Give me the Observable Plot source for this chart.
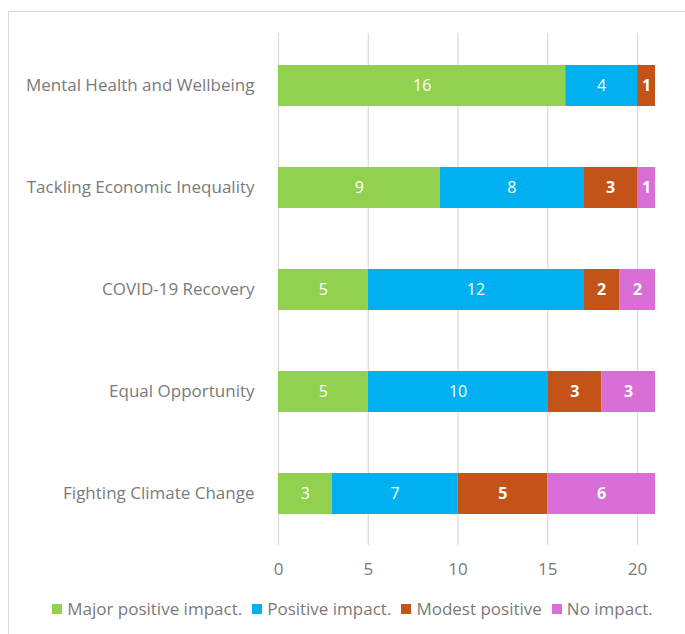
<!DOCTYPE html>
<html>
<head>
<meta charset="utf-8">
<script src="https://cdn.jsdelivr.net/npm/d3@7"></script>
<script src="https://cdn.jsdelivr.net/npm/@observablehq/plot@0.6"></script>
<style>
  body { margin: 0; background: #fff; font-family: "Open Sans", sans-serif; }
  #frame { position: absolute; left: 8px; top: 11px; width: 700px; height: 640px; border: 1px solid #d9d9d9; box-sizing: border-box; }
  #chart { position: absolute; left: 0; top: 0; }
  #legend { position: absolute; left: 10px; top: 597px; width: 685px; height: 24px; line-height: 24px; display: flex; justify-content: center; gap: 10px; font-size: 17px; color: #7a7a7a; }
  #legend span.item { display: inline-flex; align-items: center; gap: 5px; }
  #legend span.sw { width: 10px; height: 10px; display: inline-block; }
</style>
</head>
<body>
<div id="frame"></div>
<div id="chart"></div>
<div id="legend"></div>
<script>
const categories = ["Mental Health and Wellbeing", "Tackling Economic Inequality", "COVID-19 Recovery", "Equal Opportunity", "Fighting Climate Change"];
const series = ["Major positive impact.", "Positive impact.", "Modest positive", "No impact."];
const majorPositive = [16, 9, 5, 5, 3];
const positive = [4, 8, 12, 10, 7];
const modestPositive = [1, 3, 2, 3, 5];
const noImpact = [0, 1, 2, 3, 6];
const xTicks = [0, 5, 10, 15, 20];
const colors = ["#92d050", "#00b0f0", "#c4531a", "#d86ed6"];
const boldLabels = [false, false, true, true];

const valuesBySeries = [majorPositive, positive, modestPositive, noImpact];
const data = [];
categories.forEach((c, i) => {
  series.forEach((s, j) => {
    data.push({category: c, series: s, value: valuesBySeries[j][i], bold: boldLabels[j]});
  });
});
const nonzero = data.filter(d => d.value > 0);

const chart = Plot.plot({
  width: 685,
  height: 590,
  marginTop: 33,
  marginBottom: 45,
  marginLeft: 278,
  marginRight: 30,
  style: {fontFamily: "Open Sans, sans-serif", fontSize: "17px", color: "#7a7a7a", background: "transparent"},
  x: {domain: [0, 21], ticks: xTicks, tickSize: 0, tickPadding: 17, label: null, grid: false},
  y: {domain: categories, paddingInner: 0.6, paddingOuter: 0.3, tickSize: 0, tickPadding: 24, label: null},
  color: {domain: series, range: colors},
  marks: [
    Plot.ruleX(xTicks, {stroke: "#d9d9d9", strokeWidth: 1.2}),
    Plot.barX(nonzero, Plot.stackX({x: "value", y: "category", fill: "series", order: series})),
    Plot.text(nonzero, Plot.stackX({x: "value", y: "category", z: "series", order: series, text: d => d.bold ? "" : String(d.value), fill: "white", fontSize: 16, fontWeight: "normal"})),
    Plot.text(nonzero, Plot.stackX({x: "value", y: "category", z: "series", order: series, text: d => d.bold ? String(d.value) : "", fill: "white", fontSize: 16, fontWeight: "bold"}))
  ]
});
document.getElementById("chart").appendChild(chart);

const legend = document.getElementById("legend");
series.forEach((s, j) => {
  const item = document.createElement("span");
  item.className = "item";
  const sw = document.createElement("span");
  sw.className = "sw";
  sw.style.background = colors[j];
  item.appendChild(sw);
  item.appendChild(document.createTextNode(s));
  legend.appendChild(item);
});
</script>
</body>
</html>
